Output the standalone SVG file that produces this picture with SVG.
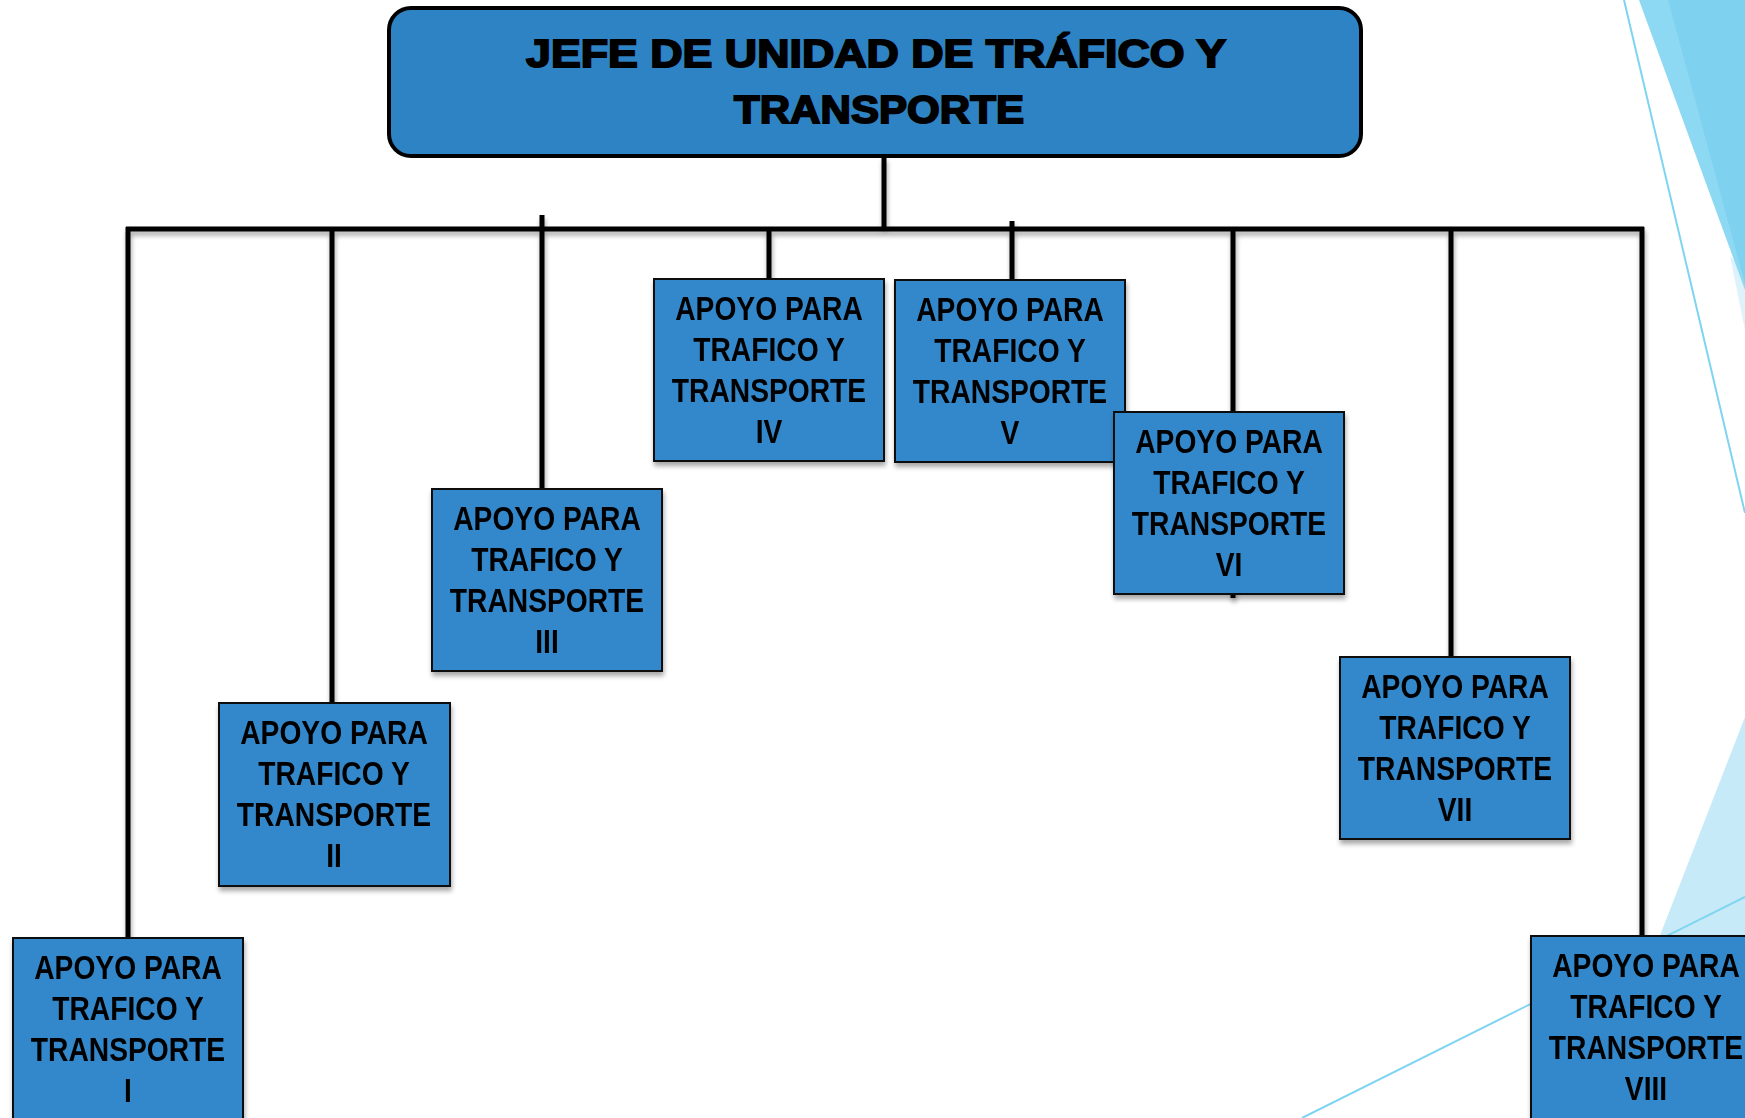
<svg xmlns="http://www.w3.org/2000/svg" width="1745" height="1118" viewBox="0 0 1745 1118">
<style>
.bg{stroke:none}
.thin{fill:none;stroke:#7FD4F1;stroke-width:2}
.conn{fill:none;stroke:#000;stroke-width:5;stroke-linecap:butt}
.box{fill:#3388CB;stroke:#111;stroke-width:2}
.top{fill:#2E83C4;stroke:#000;stroke-width:4}
.lbl{font-family:"Liberation Sans",Arial,sans-serif;font-weight:bold;font-size:33px;fill:#000;text-anchor:middle}
.ttl{font-family:"Liberation Sans",Arial,sans-serif;font-weight:bold;font-size:38px;fill:#000;stroke:#000;stroke-width:1.8;text-anchor:middle}
</style>
<defs>
<filter id="sh" x="-10%" y="-10%" width="120%" height="130%">
<feGaussianBlur in="SourceAlpha" stdDeviation="2.5"/>
<feOffset dx="1" dy="4" result="b"/>
<feComponentTransfer><feFuncA type="linear" slope="0.35"/></feComponentTransfer>
<feMerge><feMergeNode/><feMergeNode in="SourceGraphic"/></feMerge>
</filter>
</defs>
<rect width="1745" height="1118" fill="#fff"/>
<g id="decor">
<polygon class="bg" points="1730,256 1745,270 1745,330" fill="#DDF2FA"/>
<polygon class="bg" points="1639,0 1745,0 1745,290" fill="#8DD8F2"/>
<polygon class="bg" points="1668,0 1745,0 1745,284" fill="#7ED2EF"/>
<line class="thin" x1="1624" y1="0" x2="1745" y2="513"/>
<polygon class="bg" points="1745,717 1589,1118 1745,1118" fill="#C6EAF8"/>
<line class="thin" x1="1302" y1="1118" x2="1745" y2="897"/>
</g>
<g id="connectors" filter="url(#sh)">
<line class="conn" x1="884" y1="157" x2="884" y2="229"/>
<line class="conn" x1="126" y1="229" x2="1644" y2="229"/>
<line class="conn" x1="128" y1="227" x2="128" y2="940"/>
<line class="conn" x1="332" y1="227" x2="332" y2="704"/>
<line class="conn" x1="542" y1="215" x2="542" y2="490"/>
<line class="conn" x1="769" y1="227" x2="769" y2="280"/>
<line class="conn" x1="1012" y1="221" x2="1012" y2="281"/>
<line class="conn" x1="1233" y1="227" x2="1233" y2="598"/>
<line class="conn" x1="1451" y1="227" x2="1451" y2="658"/>
<line class="conn" x1="1642" y1="227" x2="1642" y2="937"/>
</g>
<g id="jefe">
<rect class="top" x="389" y="8" width="972" height="148" rx="22" ry="22"/>
<text class="ttl" x="876" y="67" textLength="700" lengthAdjust="spacingAndGlyphs">JEFE DE UNIDAD DE TRÁFICO Y</text>
<text class="ttl" x="879" y="123" textLength="290" lengthAdjust="spacingAndGlyphs">TRANSPORTE</text>
</g>
<g id="apoyo1" filter="url(#sh)">
<rect class="box" x="13" y="938" width="230" height="190"/>
<g transform="matrix(0.855 0 0 1 128 938)"><text class="lbl" y="41">APOYO PARA</text><text class="lbl" y="82">TRAFICO Y</text><text class="lbl" y="123">TRANSPORTE</text><text class="lbl" y="164">I</text></g>
</g>
<g id="apoyo2" filter="url(#sh)">
<rect class="box" x="219" y="703" width="231" height="183"/>
<g transform="matrix(0.855 0 0 1 334 703)"><text class="lbl" y="41">APOYO PARA</text><text class="lbl" y="82">TRAFICO Y</text><text class="lbl" y="123">TRANSPORTE</text><text class="lbl" y="164">II</text></g>
</g>
<g id="apoyo3" filter="url(#sh)">
<rect class="box" x="432" y="489" width="230" height="182"/>
<g transform="matrix(0.855 0 0 1 547 489)"><text class="lbl" y="41">APOYO PARA</text><text class="lbl" y="82">TRAFICO Y</text><text class="lbl" y="123">TRANSPORTE</text><text class="lbl" y="164">III</text></g>
</g>
<g id="apoyo4" filter="url(#sh)">
<rect class="box" x="654" y="279" width="230" height="182"/>
<g transform="matrix(0.855 0 0 1 769 279)"><text class="lbl" y="41">APOYO PARA</text><text class="lbl" y="82">TRAFICO Y</text><text class="lbl" y="123">TRANSPORTE</text><text class="lbl" y="164">IV</text></g>
</g>
<g id="apoyo5" filter="url(#sh)">
<rect class="box" x="895" y="280" width="230" height="182"/>
<g transform="matrix(0.855 0 0 1 1010 280)"><text class="lbl" y="41">APOYO PARA</text><text class="lbl" y="82">TRAFICO Y</text><text class="lbl" y="123">TRANSPORTE</text><text class="lbl" y="164">V</text></g>
</g>
<g id="apoyo6" filter="url(#sh)">
<rect class="box" x="1114" y="412" width="230" height="182"/>
<g transform="matrix(0.855 0 0 1 1229 412)"><text class="lbl" y="41">APOYO PARA</text><text class="lbl" y="82">TRAFICO Y</text><text class="lbl" y="123">TRANSPORTE</text><text class="lbl" y="164">VI</text></g>
</g>
<g id="apoyo7" filter="url(#sh)">
<rect class="box" x="1340" y="657" width="230" height="182"/>
<g transform="matrix(0.855 0 0 1 1455 657)"><text class="lbl" y="41">APOYO PARA</text><text class="lbl" y="82">TRAFICO Y</text><text class="lbl" y="123">TRANSPORTE</text><text class="lbl" y="164">VII</text></g>
</g>
<g id="apoyo8" filter="url(#sh)">
<rect class="box" x="1531" y="936" width="232" height="190"/>
<g transform="matrix(0.855 0 0 1 1646 936)"><text class="lbl" y="41">APOYO PARA</text><text class="lbl" y="82">TRAFICO Y</text><text class="lbl" y="123">TRANSPORTE</text><text class="lbl" y="164">VIII</text></g>
</g>
</svg>
